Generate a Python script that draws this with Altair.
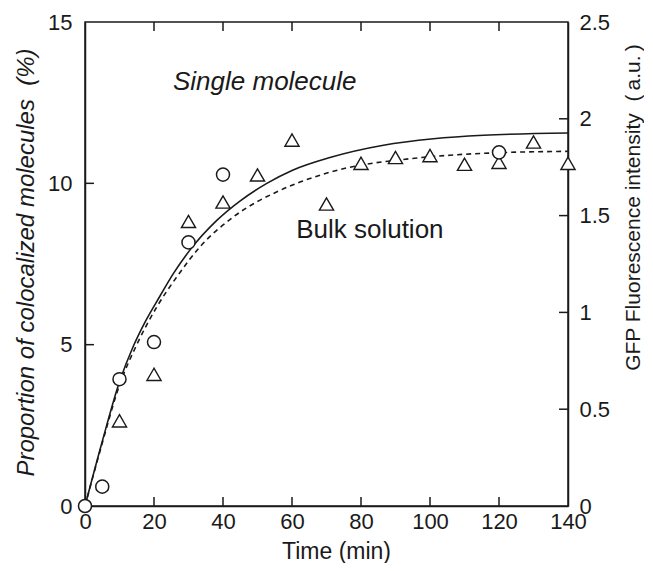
import altair as alt
import pandas as pd

# ---- data ----
circle_t = [0, 5, 10, 20, 30, 40, 120]
circle_v = [0, 0.6, 3.93, 5.08, 8.17, 10.27, 10.96]          # % (left axis)

tri_t = [10, 20, 30, 40, 50, 60, 70, 80, 90, 100, 110, 120, 130, 140]
tri_v = [0.44, 0.68, 1.47, 1.57, 1.71, 1.89, 1.56, 1.77, 1.80, 1.81, 1.765, 1.775, 1.88, 1.77]  # a.u. (right axis)

solid_t = [0, 5, 10, 14, 17.4, 21.7, 25.6, 30.4, 38.2, 44.9, 52.7, 60, 71, 86.5, 101, 115.5, 140]
solid_v = [0, 2.0, 3.85, 4.95, 5.7, 6.5, 7.2, 7.93, 8.85, 9.45, 10.0, 10.4, 10.8, 11.18, 11.38, 11.49, 11.56]

dash_t = [0, 5, 10, 15, 20.8, 26.6, 33.3, 43, 56.5, 62.3, 76.8, 91.3, 105.8, 120.3, 140]
dash_v = [0, 0.325, 0.625, 0.833, 1.028, 1.183, 1.338, 1.493, 1.63, 1.673, 1.75, 1.788, 1.812, 1.825, 1.832]

x_ticks = [0, 20, 40, 60, 80, 100, 120, 140]
left_ticks = [0, 5, 10, 15]
right_ticks = [0, 0.5, 1, 1.5, 2, 2.5]

FONT = "Liberation Sans"
INK = "#1a1a1a"

x_scale = alt.Scale(domain=[0, 140], nice=False, zero=False)
l_scale = alt.Scale(domain=[0, 15], nice=False)
r_scale = alt.Scale(domain=[0, 2.5], nice=False)

x_axis = alt.Axis(values=x_ticks, ticks=False, labelPadding=5, labelFontSize=22,
                  labelFlush=False, labelOverlap=False,
                  title="Time (min)", titleFontSize=23, titleX=251, titleY=52,
                  titleAlign="center", titleBaseline="alphabetic")
l_axis = alt.Axis(values=left_ticks, ticks=False, labelPadding=13, labelFontSize=22,
                  labelFlush=False, labelOverlap=False,
                  title="Proportion of colocalized molecules\u00a0\u00a0(%)", titleFontSize=24,
                  titleFontStyle="italic", titleAngle=270, titleX=-59, titleY=240,
                  titleAlign="center", titleBaseline="middle")
r_axis = alt.Axis(values=right_ticks, ticks=False, labelPadding=11, labelFontSize=22,
                  labelFlush=False, labelOverlap=False, format="~g", orient="right",
                  title="GFP Fluorescence intensity\u00a0\u00a0(\u2009a.u.\u2009)", titleFontSize=21,
                  titleAngle=270, titleX=65, titleY=185,
                  titleAlign="center", titleBaseline="middle")

X = lambda f: alt.X(f"{f}:Q", scale=x_scale, axis=x_axis)
YL = lambda f: alt.Y(f"{f}:Q", scale=l_scale, axis=l_axis)
YR = lambda f: alt.Y(f"{f}:Q", scale=r_scale, axis=r_axis)

circles = pd.DataFrame({"t": circle_t, "v": circle_v})
tris = pd.DataFrame({"t": tri_t, "v": tri_v})
solid = pd.DataFrame({"t": solid_t, "v": solid_v})
dash = pd.DataFrame({"t": dash_t, "v": dash_v})

# inward tick marks (data units)
tick_len_y = 0.28   # left units
tick_len_x = 2.6    # time units
bt = pd.DataFrame({"t": x_ticks[1:-1], "y0": 0, "y1": tick_len_y})
tt = pd.DataFrame({"t": x_ticks[1:-1], "y0": 15, "y1": 15 - tick_len_y})
lt = pd.DataFrame({"v": left_ticks[1:-1], "x0": 0, "x1": tick_len_x})
rt = pd.DataFrame({"v": right_ticks[1:-1], "x0": 140, "x1": 140 - tick_len_x})

labels = pd.DataFrame({"t": [25.5, 61.2], "v": [12.9, 8.3],
                       "txt": ["Single molecule", "Bulk solution"]})

solid_line = alt.Chart(solid).mark_line(color=INK, strokeWidth=1.6, interpolate="monotone").encode(
    x=X("t"), y=YL("v"))
circ = alt.Chart(circles).mark_point(shape="circle", size=170, filled=False, fill="white",
                                     fillOpacity=1, stroke=INK, strokeWidth=1.5, opacity=1).encode(
    x=X("t"), y=YL("v"))
bot_ticks = alt.Chart(bt).mark_rule(color=INK, strokeWidth=1.5).encode(
    x=X("t"), y=YL("y0"), y2="y1:Q")
top_ticks = alt.Chart(tt).mark_rule(color=INK, strokeWidth=1.5).encode(
    x=X("t"), y=YL("y0"), y2="y1:Q")
left_ticks_m = alt.Chart(lt).mark_rule(color=INK, strokeWidth=1.5).encode(
    y=YL("v"), x=X("x0"), x2="x1:Q")
txt_single = alt.Chart(labels.iloc[[0]]).mark_text(
    font=FONT, fontSize=26, fontStyle="italic", align="left", baseline="alphabetic", color=INK).encode(
    x=X("t"), y=YL("v"), text="txt:N")
txt_bulk = alt.Chart(labels.iloc[[1]]).mark_text(
    font=FONT, fontSize=26, align="left", baseline="alphabetic", color=INK).encode(
    x=X("t"), y=YL("v"), text="txt:N")

left = alt.layer(solid_line, bot_ticks, top_ticks, left_ticks_m, txt_single, txt_bulk, circ)

dash_line = alt.Chart(dash).mark_line(color=INK, strokeWidth=1.6, strokeDash=[5, 4],
                                      interpolate="monotone").encode(x=X("t"), y=YR("v"))
tri = alt.Chart(tris).mark_point(shape="triangle-up", size=200, filled=False, fill="white",
                                 fillOpacity=1, stroke=INK, strokeWidth=1.4, opacity=1).encode(
    x=X("t"), y=YR("v"))
right_ticks_m = alt.Chart(rt).mark_rule(color=INK, strokeWidth=1.5).encode(
    y=YR("v"), x=X("x0"), x2="x1:Q")

right = alt.layer(dash_line, right_ticks_m, tri)

chart = alt.layer(right, left).resolve_scale(y="independent").properties(
    width=483, height=484, autosize=alt.AutoSizeParams(type="none"),
    padding={"left": 77, "top": 14, "right": 76, "bottom": 57},
    background="white"
).configure_view(stroke=INK, strokeWidth=1.5).configure_axis(
    labelFont=FONT, titleFont=FONT, labelColor=INK, titleColor=INK,
    domainColor=INK, domainWidth=1.5, grid=False, titleFontWeight="normal"
)

chart.save("out.html", embed_options={"renderer": "svg", "actions": False})
